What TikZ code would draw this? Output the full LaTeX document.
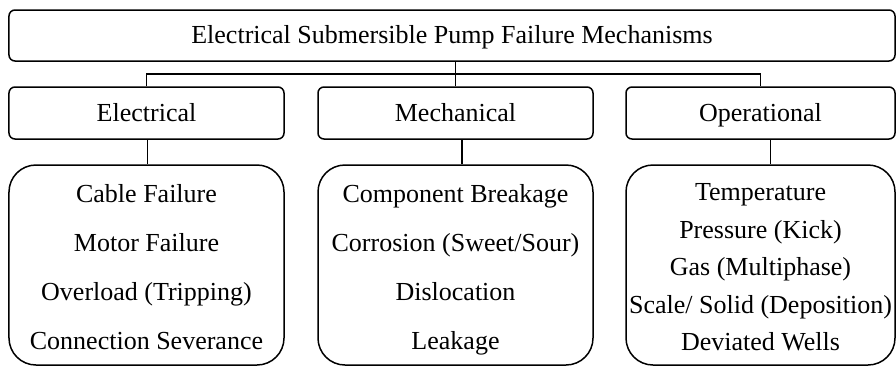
\documentclass[tikz,border=0pt]{standalone}
\usepackage{fontspec}
\setmainfont{Liberation Serif}
\usetikzlibrary{positioning,calc}

% struts so every list is centred the same way
\newcommand{\topstrut}{\rule{0pt}{28bp}}
\newcommand{\botstrut}{\rule[-7bp]{0pt}{7bp}}

\begin{document}
\begin{tikzpicture}[x=1bp, y=-1bp,
  box/.style={draw=black, line width=1.5bp, rounded corners=6bp, inner sep=0pt,
    text height=20bp, text depth=4bp, font=\fontsize{26bp}{30bp}\selectfont},
  listbox/.style={draw=black, line width=1.5bp, rounded corners=27bp, inner sep=0pt,
    align=center, minimum height=200bp},
  link/.style={line width=1.5bp}]
  \useasboundingbox (0,0) rectangle (896,367);

  % Top: the title box
  \node[box, minimum width=886bp, minimum height=51bp] (esp) at (452,35.5)
    {Electrical Submersible Pump Failure Mechanisms};

  % Second row: the three groups
  \node[box, minimum width=275bp, minimum height=52bp] (elec) at (146.5,113) {Electrical};
  \node[box, minimum width=275bp, minimum height=52bp] (mech) at (455.5,113) {Mechanical};
  \node[box, minimum width=269bp, minimum height=52bp] (oper) at (760.5,113) {Operational};

  % Third row: the failure lists (4, 4 and 5 lines)
  \node[listbox, minimum width=275bp, font=\fontsize{26bp}{49bp}\selectfont] (elecl) at (146.5,265)
    {\topstrut Cable Failure\\ Motor Failure\\ Overload (Tripping)\\ Connection Severance\botstrut};
  \node[listbox, minimum width=275bp, font=\fontsize{26bp}{49bp}\selectfont] (mechl) at (455.5,265)
    {\topstrut Component Breakage\\ Corrosion (Sweet/Sour)\\ Dislocation\\ Leakage\botstrut};
  \node[listbox, minimum width=269bp, font=\fontsize{26bp}{37.5bp}\selectfont] (operl) at (760.5,265)
    {\topstrut Temperature\\ Pressure (Kick)\\ Gas (Multiphase)\\ Scale/ Solid (Deposition)\\ Deviated Wells\botstrut};

  % Bus from the title down to the groups
  \coordinate (bus) at (455.5,74);
  \draw[link] (mech.north) -- (mech.north |- esp.south);
  \draw[link] (elec.north) |- (bus) -| (oper.north);

  % Groups down to their lists
  \draw[link] ([xshift=1]elec.south) -- ([xshift=1]elec.south |- elecl.north);
  \draw[link] ([xshift=6.5]mech.south) -- ([xshift=6.5]mech.south |- mechl.north);
  \draw[link] ([xshift=10]oper.south) -- ([xshift=10]oper.south |- operl.north);
\end{tikzpicture}
\end{document}
